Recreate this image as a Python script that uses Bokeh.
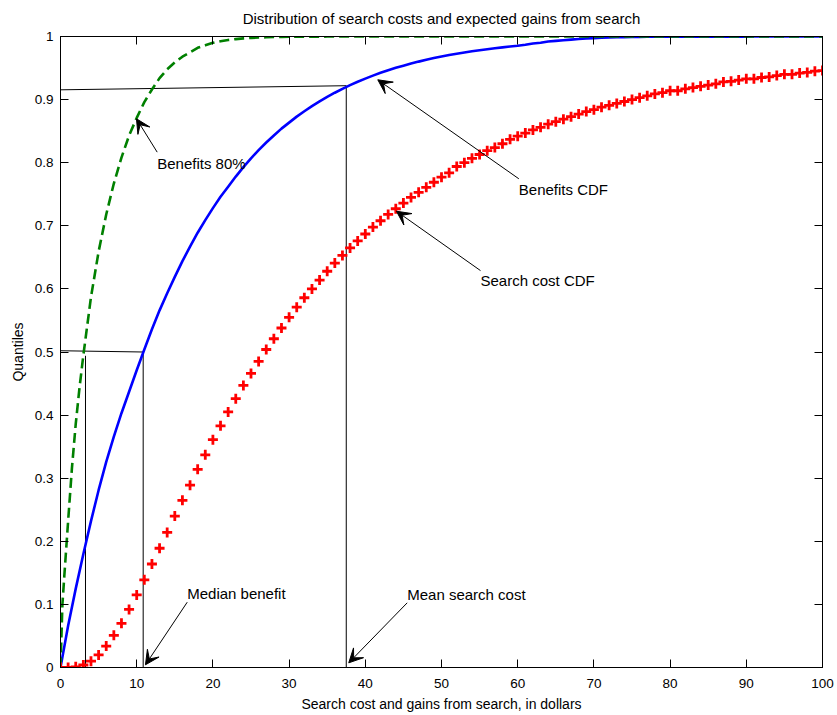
from bokeh.plotting import figure
from bokeh.models import Range1d, LinearAxis, FixedTicker, Arrow, VeeHead
from bokeh.core.properties import value
from bokeh.embed import file_html
from bokeh.resources import INLINE

# ---------------- data ----------------
title_text = "Distribution of search costs and expected gains from search"
x_label = "Search cost and gains from search, in dollars"
y_label = "Quantiles"

x_ticks = [0, 10, 20, 30, 40, 50, 60, 70, 80, 90, 100]
x_tick_labels = ["0", "10", "20", "30", "40", "50", "60", "70", "80", "90", "100"]
y_ticks = [0, 0.1, 0.2, 0.3, 0.4, 0.5, 0.6, 0.7, 0.8, 0.9, 1]
y_tick_labels = ["0", "0.1", "0.2", "0.3", "0.4", "0.5", "0.6", "0.7", "0.8", "0.9", "1"]

# dollars grid (one sample per dollar)
dollars = list(range(0, 101))

search_cost_cdf = [
    0.000, 0.000, 0.001, 0.004, 0.010, 0.020, 0.034, 0.051, 0.070, 0.092,
    0.115, 0.139, 0.164, 0.189, 0.214, 0.240, 0.265, 0.289, 0.314, 0.337,
    0.361, 0.383, 0.405, 0.426, 0.447, 0.466, 0.485, 0.504, 0.521, 0.538,
    0.555, 0.571, 0.586, 0.600, 0.614, 0.628, 0.641, 0.653, 0.665, 0.676,
    0.687, 0.698, 0.708, 0.718, 0.727, 0.736, 0.745, 0.753, 0.761, 0.769,
    0.777, 0.784, 0.794, 0.800, 0.807, 0.813, 0.819, 0.824, 0.830, 0.837,
    0.842, 0.847, 0.852, 0.856, 0.861, 0.865, 0.869, 0.873, 0.877, 0.881,
    0.884, 0.888, 0.891, 0.894, 0.897, 0.900, 0.903, 0.906, 0.909, 0.911,
    0.914, 0.914, 0.917, 0.919, 0.921, 0.923, 0.925, 0.928, 0.929, 0.931,
    0.933, 0.933, 0.935, 0.936, 0.938, 0.940, 0.940, 0.942, 0.943, 0.945,
    0.946,
]

benefits_cdf = [
    0.000, 0.066, 0.125, 0.180, 0.232, 0.281, 0.326, 0.366, 0.403, 0.437,
    0.471, 0.504, 0.536, 0.566, 0.593, 0.619, 0.644, 0.667, 0.689, 0.709,
    0.728, 0.746, 0.762, 0.778, 0.793, 0.807, 0.820, 0.832, 0.843, 0.854,
    0.8635, 0.873, 0.8815, 0.8896, 0.8972, 0.9043, 0.9109, 0.9171, 0.9229, 0.9283,
    0.9333, 0.938, 0.9424, 0.9465, 0.9503, 0.9538, 0.9571, 0.9602, 0.9631, 0.9658,
    0.9683, 0.9706, 0.9727, 0.9747, 0.9766, 0.9783, 0.9799, 0.9814, 0.9828, 0.9841,
    0.9853, 0.987, 0.989, 0.990, 0.992, 0.993, 0.994, 0.995, 0.996, 0.997,
    0.9975, 0.998, 0.9984, 0.9987, 0.999, 0.9992, 0.9994, 0.9995, 0.9996, 0.9997,
    0.9997, 0.9998, 0.9998, 0.9998, 0.9998, 0.9998, 0.9998, 0.9998, 0.9998, 0.9998,
    0.9998, 0.9999, 0.9999, 0.9999, 0.9999, 0.9999, 0.9999, 0.9999, 0.9999, 0.9999,
    1.000,
]

benefits80_x = [0, 0.25, 0.5, 1, 1.5, 2, 2.5, 3, 4, 5, 6, 7, 8, 9, 10, 11, 12,
                13, 14, 15, 16, 17, 18, 19, 20, 21, 22, 23, 24, 25, 26, 27, 28,
                29, 30, 35, 40, 50, 60, 70, 80, 90, 100]
benefits80_cdf = [0.0, 0.100, 0.145, 0.232, 0.316, 0.386, 0.444, 0.495, 0.587,
                  0.659, 0.718, 0.767, 0.808, 0.843, 0.871, 0.896, 0.916, 0.934,
                  0.948, 0.959, 0.968, 0.975, 0.982, 0.986, 0.990, 0.9926,
                  0.9945, 0.9959, 0.997, 0.9978, 0.9984, 0.9988, 0.9991, 0.9994,
                  0.9996, 0.9999, 1.0, 1.0, 1.0, 1.0, 1.0, 1.0, 1.0]

# guide lines (quantile read-offs)
guide_xs = [[0, 37.5], [37.5, 37.5], [0, 10.85], [10.85, 10.85], [3.28, 3.28]]
guide_ys = [[0.9155, 0.922], [0.922, 0.0], [0.502, 0.5], [0.5, 0.0], [0.494, 0.0]]

# annotations
ann_text = ["Benefits 80%", "Benefits CDF", "Search cost CDF", "Median benefit", "Mean search cost"]
ann_x = [12.69, 60.15, 55.12, 16.63, 45.5]
ann_y = [0.7995, 0.758, 0.614, 0.1168, 0.1154]
arrow_x0 = [12.69, 60.15, 55.12, 16.63, 45.5]
arrow_y0 = [0.8167, 0.7745, 0.629, 0.1035, 0.1025]
arrow_x1 = [9.97, 41.64, 44.09, 11.15, 37.83]
arrow_y1 = [0.8696, 0.9314, 0.7231, 0.0043, 0.0074]

FONT = "Liberation Sans"

# ---------------- figure ----------------
p = figure(width=837, height=715, output_backend="svg", toolbar_location=None,
           x_range=Range1d(0, 100), y_range=Range1d(0, 1),
           min_border_left=60, min_border_right=15, min_border_top=36,
           min_border_bottom=48, title=title_text)
p.background_fill_color = "white"
p.border_fill_color = "white"
p.outline_line_color = "black"
p.xgrid.visible = False
p.ygrid.visible = False

p.title.align = "center"
p.title.vertical_align = "top"
p.title.text_font = FONT
p.title.text_font_size = "15px"
p.title.text_font_style = "normal"
p.title.text_color = "black"
p.title.standoff = 16


def style_axis(ax, ticks, labels, show_labels=True):
    ax.ticker = FixedTicker(ticks=ticks)
    ax.major_label_overrides = {t: l for t, l in zip(ticks, labels)}
    ax.major_tick_in = 8
    ax.major_tick_out = 0
    ax.minor_tick_line_color = None
    ax.axis_line_color = "black"
    ax.major_tick_line_color = "black"
    ax.major_label_text_font = FONT
    if show_labels:
        ax.major_label_text_color = "black"
        ax.major_label_text_font_size = "13.5px"
        ax.major_label_standoff = 7
    else:
        # tick marks only (box axes): labels are not drawn
        ax.major_label_text_color = None
        ax.major_label_text_font_size = "0px"
        ax.major_label_standoff = 0


xa = p.xaxis[0]
ya = p.yaxis[0]
style_axis(xa, x_ticks, x_tick_labels)
style_axis(ya, y_ticks, y_tick_labels)
xa.major_label_standoff = 11
xa.axis_label = x_label
ya.axis_label = y_label
for ax in (xa, ya):
    ax.axis_label_text_font = FONT
    ax.axis_label_text_font_size = "14px"
    ax.axis_label_text_font_style = "normal"
    ax.axis_label_text_color = "black"
xa.axis_label_standoff = 5
ya.axis_label_standoff = 6

top = LinearAxis()
style_axis(top, x_ticks, x_tick_labels, show_labels=False)
p.add_layout(top, "above")
right = LinearAxis()
style_axis(right, y_ticks, y_tick_labels, show_labels=False)
p.add_layout(right, "right")

# guide lines
p.multi_line(xs=guide_xs, ys=guide_ys, line_color="black", line_width=1)

# curves
p.line(dollars, benefits_cdf, line_color="#0000FF", line_width=2.6)
p.line(benefits80_x, benefits80_cdf, line_color="#008000", line_width=2.6,
       line_dash="10 5")
p.scatter(dollars, search_cost_cdf, marker="cross", size=10,
          line_color="#FF0000", line_width=2.8)

# annotations
for x0, y0, x1, y1 in zip(arrow_x0, arrow_y0, arrow_x1, arrow_y1):
    p.add_layout(Arrow(end=VeeHead(size=14, fill_color="black", line_color="black",
                                   line_width=1),
                       x_start=x0, y_start=y0, x_end=x1, y_end=y1,
                       line_color="black", line_width=1))
p.text(x=ann_x, y=ann_y, text=ann_text, text_font=value(FONT),
       text_font_size=value("15px"), text_baseline="middle", text_align="left",
       text_color="black")

open("out.html", "w").write(file_html(p, INLINE))
